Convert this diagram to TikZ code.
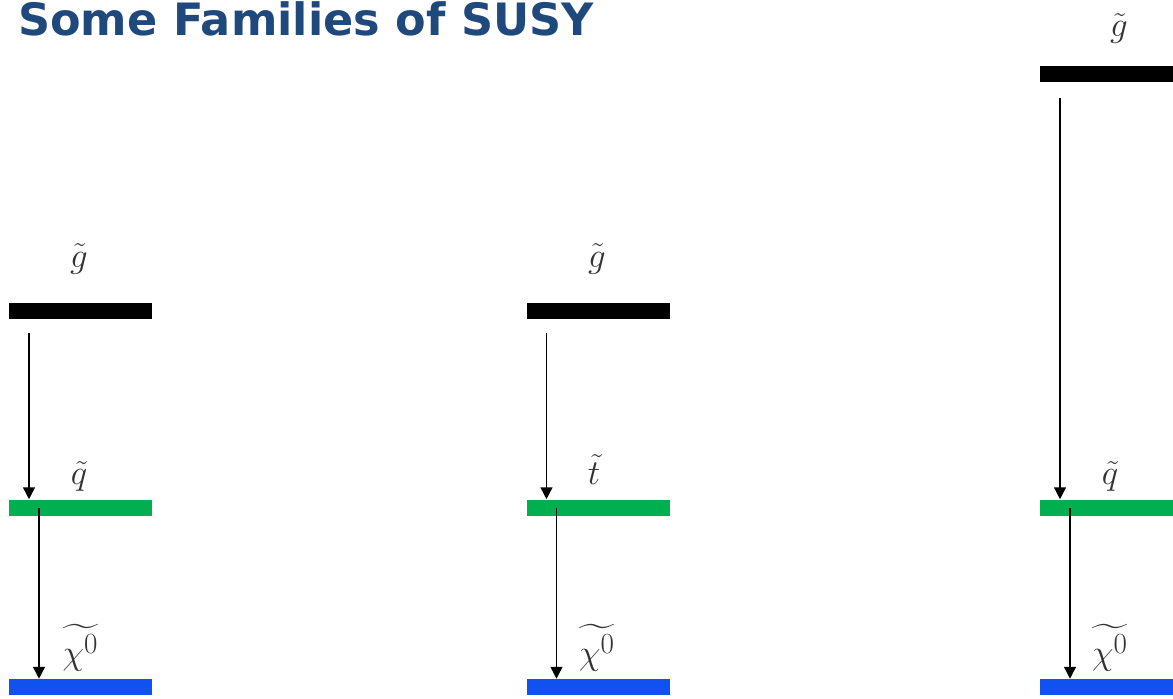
\documentclass[tikz,border=0pt]{standalone}
\usepackage{amsmath,amssymb}
\usepackage{fontspec}
\usepackage{tikz}
\usetikzlibrary{arrows.meta, positioning}

\newfontfamily\headfont{DejaVu Sans}
\definecolor{titleblue}{RGB}{31,73,125}
\definecolor{susygreen}{RGB}{0,176,80}
\definecolor{susyblue}{RGB}{16,82,240}

\begin{document}
\begin{tikzpicture}[
    every node/.style={inner sep=0pt, font=\Huge, text=black!80},
    bar/.style={rectangle, minimum width=3.575cm, minimum height=0.4cm},
    gluino/.style={bar, fill=black},
    squark/.style={bar, fill=susygreen},
    lsp/.style={bar, fill=susyblue},
    >={Triangle[width=8.5pt,length=8.5pt]},
    decay/.style={->, line width=1.1pt}
]
\clip (0,0) rectangle (29.325,17.45);
\node[anchor=base west, font=\headfont\bfseries\fontsize{31.7}{38}\selectfont, text=titleblue] (title) at (0.45,16.55) {Some Families of SUSY};

% first family
\node[gluino] (g1) at (2.0125,9.6875) {};
\node[squark] (q1) at (2.0125,4.7625) {};
\node[lsp] (n1) at (2.0125,0.275) {};
\node[anchor=base] (lg1) at (1.975,10.775) {$\tilde{g}$};
\node[anchor=base] (lq1) at (1.975,5.35) {$\tilde{q}$};
\node[anchor=base] (ln1) at (2.0125,0.85) {$\widetilde{\chi^0}$};
\draw[decay, shorten <=0.35cm] ([xshift=-1.2875cm]g1.south) -- ([xshift=-1.2875cm]q1.north);
\draw[decay] ([xshift=-1.0375cm]q1.center) -- ([xshift=-1.0375cm]n1.north);

% second family
\node[gluino] (g2) at (14.95,9.6875) {};
\node[squark] (t2) at (14.95,4.7625) {};
\node[lsp] (n2) at (14.95,0.275) {};
\node[anchor=base] (lg2) at (14.925,10.775) {$\tilde{g}$};
\node[anchor=base] (lt2) at (14.85,5.35) {$\tilde{t}$};
\node[anchor=base] (ln2) at (14.925,0.85) {$\widetilde{\chi^0}$};
\draw[decay, shorten <=0.35cm] ([xshift=-1.2875cm]g2.south) -- ([xshift=-1.2875cm]t2.north);
\draw[decay] ([xshift=-1.0375cm]t2.center) -- ([xshift=-1.0375cm]n2.north);

% third family
\node[gluino] (g3) at (27.7875,15.5875) {};
\node[squark] (q3) at (27.7875,4.7625) {};
\node[lsp] (n3) at (27.7875,0.275) {};
\node[anchor=base] (lg3) at (27.975,16.525) {$\tilde{g}$};
\node[anchor=base] (lq3) at (27.75,5.35) {$\tilde{q}$};
\node[anchor=base] (ln3) at (27.75,0.85) {$\widetilde{\chi^0}$};
\draw[decay, shorten <=0.375cm] ([xshift=-1.2875cm]g3.south) -- ([xshift=-1.2875cm]q3.north);
\draw[decay] ([xshift=-1.0375cm]q3.center) -- ([xshift=-1.0375cm]n3.north);
\end{tikzpicture}
\end{document}
